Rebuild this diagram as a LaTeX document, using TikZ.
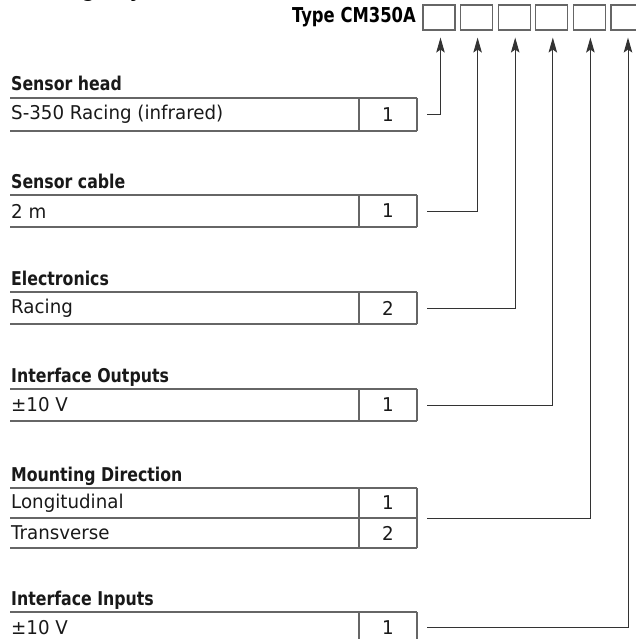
\documentclass[tikz,border=0pt]{standalone}
\usepackage{fontspec}
\setmainfont{DejaVu Sans}
\newfontfamily\hdfont[FakeStretch=0.83]{DejaVu Sans}
\newfontfamily\tyfont[FakeStretch=0.8]{DejaVu Sans}
\newfontfamily\txfont[FakeStretch=0.96]{DejaVu Sans}
\usetikzlibrary{arrows.meta,calc}
\begin{document}
\begin{tikzpicture}[x=1pt,y=-1pt,
  hd/.style={anchor=base west, font=\hdfont\bfseries\fontsize{19}{22}\selectfont, inner sep=0pt, text=black!90},
  txt/.style={anchor=west, font=\txfont\fontsize{19}{22}\selectfont, inner sep=0pt, text=black!90},
  num/.style={anchor=center, font=\txfont\fontsize{19}{22}\selectfont, inner sep=0pt, text=black!90},
  rowline/.style={draw=black!60, line width=1.1pt},
  topbox/.style={draw=black!60, line width=1.1pt, minimum width=32pt, minimum height=25pt, inner sep=0pt},
  arr/.style={draw=black!80, line width=1pt, -{Stealth[length=15pt,width=8.5pt,inset=3pt]}},
]
\useasboundingbox (0,0) rectangle (636,639);
\clip (0,0) rectangle (636,639);

% title fragment cut at top
\node[anchor=base west, font=\hdfont\bfseries\fontsize{23}{27}\selectfont, inner sep=0pt] (title) at (0,-3) {Ordering Key};

% type code
\node[anchor=east, font=\tyfont\bfseries\fontsize{20.5}{24}\selectfont, inner sep=0pt] (type) at (416,17.5) {Type CM350A};
\node[topbox] (b1) at (439,17.5) {};
\node[topbox] (b2) at (476.6,17.5) {};
\node[topbox] (b3) at (514.2,17.5) {};
\node[topbox] (b4) at (551.8,17.5) {};
\node[topbox] (b5) at (589.4,17.5) {};
\node[topbox] (b6) at (627,17.5) {};

% Sensor head
\node[hd] (h1) at (11,91) {Sensor head};
\draw[rowline] (10,98) -- (417,98) (10,131) -- (417,131) (359,98) -- (359,131) (417,98) -- (417,131);
\node[txt] (t1) at (11,114.5) {S-350 Racing (infrared)};
\node[num] (n1) at (388,114.5) {1};
\coordinate (c1) at (427,114.5);

% Sensor cable
\node[hd] (h2) at (11,188) {Sensor cable};
\draw[rowline] (10,195) -- (417,195) (10,227) -- (417,227) (359,195) -- (359,227) (417,195) -- (417,227);
\node[txt] (t2) at (11,211) {2 m};
\node[num] (n2) at (388,211) {1};
\coordinate (c2) at (427,211);

% Electronics
\node[hd] (h3) at (11,285) {Electronics};
\draw[rowline] (10,292) -- (417,292) (10,324) -- (417,324) (359,292) -- (359,324) (417,292) -- (417,324);
\node[txt] (t3) at (11,308) {Racing};
\node[num] (n3) at (388,308) {2};
\coordinate (c3) at (427,308);

% Interface Outputs
\node[hd] (h4) at (11,382) {Interface Outputs};
\draw[rowline] (10,389) -- (417,389) (10,421) -- (417,421) (359,389) -- (359,421) (417,389) -- (417,421);
\node[txt] (t4) at (11,405) {\symbol{"00B1}10 V};
\node[num] (n4) at (388,405) {1};
\coordinate (c4) at (427,405);

% Mounting Direction
\node[hd] (h5) at (11,481) {Mounting Direction};
\draw[rowline] (10,488) -- (417,488) (10,518) -- (417,518) (10,548) -- (417,548) (359,488) -- (359,548) (417,488) -- (417,548);
\node[txt] (t5a) at (11,503) {Longitudinal};
\node[num] (n5a) at (388,503) {1};
\node[txt] (t5b) at (11,533) {Transverse};
\node[num] (n5b) at (388,533) {2};
\coordinate (c5) at (427,518);

% Interface Inputs
\node[hd] (h6) at (11,605) {Interface Inputs};
\draw[rowline] (10,612) -- (417,612) (10,644) -- (417,644) (359,612) -- (359,644) (417,612) -- (417,644);
\node[txt] (t6) at (11,628) {\symbol{"00B1}10 V};
\node[num] (n6) at (388,628) {1};
\coordinate (c6) at (427,627);

% connectors
\draw[arr] (c1) -| ($(b1.south)+(1.5,7)$);
\draw[arr] (c2) -| ($(b2.south)+(1,7)$);
\draw[arr] (c3) -| ($(b3.south)+(1,7)$);
\draw[arr] (c4) -| ($(b4.south)+(1,7)$);
\draw[arr] (c5) -| ($(b5.south)+(1,7)$);
\draw[arr] (c6) -| ($(b6.south)+(1,7)$);
\end{tikzpicture}
\end{document}
